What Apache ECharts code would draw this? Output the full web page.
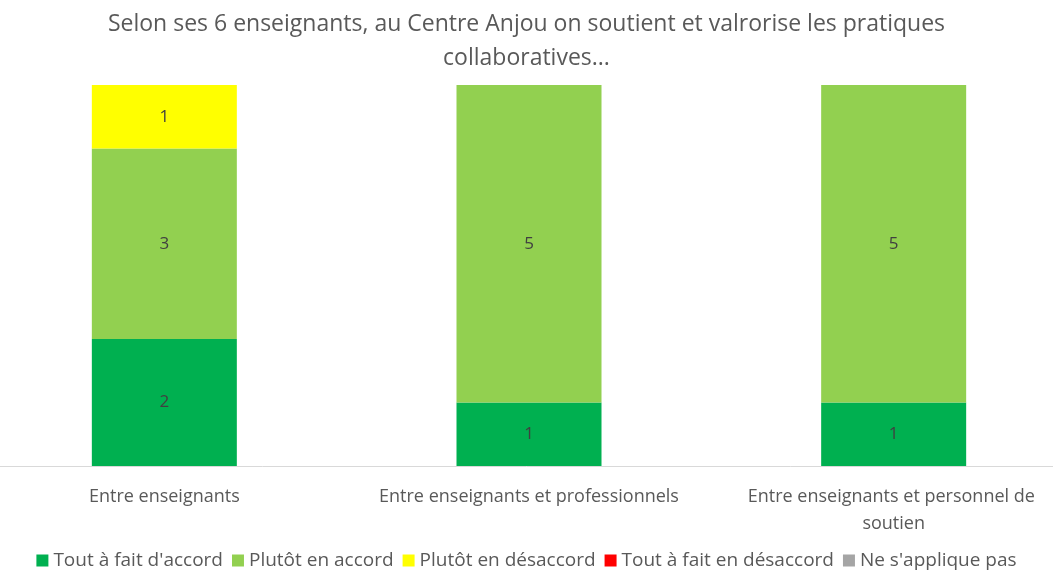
<!DOCTYPE html>
<html>
<head>
<meta charset="utf-8">
<script src="https://cdn.jsdelivr.net/npm/echarts@6/dist/echarts.min.js"></script>
<style>
  html, body { margin: 0; padding: 0; background: #fff; }
  #chart { width: 1053px; height: 570px; }
</style>
</head>
<body>
<div id="chart"></div>
<script>
const categories = [
  "Entre enseignants",
  "Entre enseignants et professionnels",
  "Entre enseignants et personnel de soutien"
];
const toutAFaitAccord = [2, 1, 1];
const plutotAccord = [3, 5, 5];
const plutotDesaccord = [1, 0, 0];
const toutAFaitDesaccord = [0, 0, 0];
const neSappliquePas = [0, 0, 0];

const font = "Open Sans";
const textColor = "#595959";

function makeSeries(name, data, color) {
  return {
    name: name,
    type: "bar",
    stack: "total",
    data: data,
    barWidth: 145,
    itemStyle: { color: color },
    label: {
      show: true,
      position: "inside",
      color: "#404040",
      fontFamily: font,
      fontSize: 17,
      formatter: (p) => (p.value ? p.value : "")
    }
  };
}

const chart = echarts.init(document.getElementById("chart"));
chart.setOption({
  animation: false,
  title: {
    text: "Selon ses 6 enseignants, au Centre Anjou on soutient et valrorise les pratiques\ncollaboratives...",
    left: "center",
    top: 2,
    textStyle: {
      color: textColor,
      fontFamily: font,
      fontSize: 23,
      fontWeight: "normal",
      lineHeight: 34
    }
  },
  legend: {
    top: 546,
    left: "center",
    icon: "rect",
    itemWidth: 12,
    itemHeight: 12,
    itemGap: 9,
    textStyle: { color: textColor, fontFamily: font, fontSize: 19 },
    data: ["Tout à fait d'accord", "Plutôt en accord", "Plutôt en désaccord", "Tout à fait en désaccord", "Ne s'applique pas"]
  },
  grid: {
    left: -18,
    width: 1094,
    top: 85,
    height: 381,
    outerBoundsMode: "none",
    containLabel: false
  },
  xAxis: {
    type: "category",
    data: categories,
    axisLine: { lineStyle: { color: "#d9d9d9", width: 1 } },
    axisTick: { show: false },
    axisLabel: {
      interval: 0,
      color: textColor,
      fontFamily: font,
      fontSize: 18,
      margin: 17,
      lineHeight: 27,
      width: 325,
      overflow: "break"
    }
  },
  yAxis: {
    type: "value",
    min: 0,
    max: 6,
    show: false,
    splitLine: { show: false }
  },
  series: [
    makeSeries("Tout à fait d'accord", toutAFaitAccord, "#00b050"),
    makeSeries("Plutôt en accord", plutotAccord, "#92d050"),
    makeSeries("Plutôt en désaccord", plutotDesaccord, "#ffff00"),
    makeSeries("Tout à fait en désaccord", toutAFaitDesaccord, "#ff0000"),
    makeSeries("Ne s'applique pas", neSappliquePas, "#a5a5a5")
  ]
});
</script>
</body>
</html>
